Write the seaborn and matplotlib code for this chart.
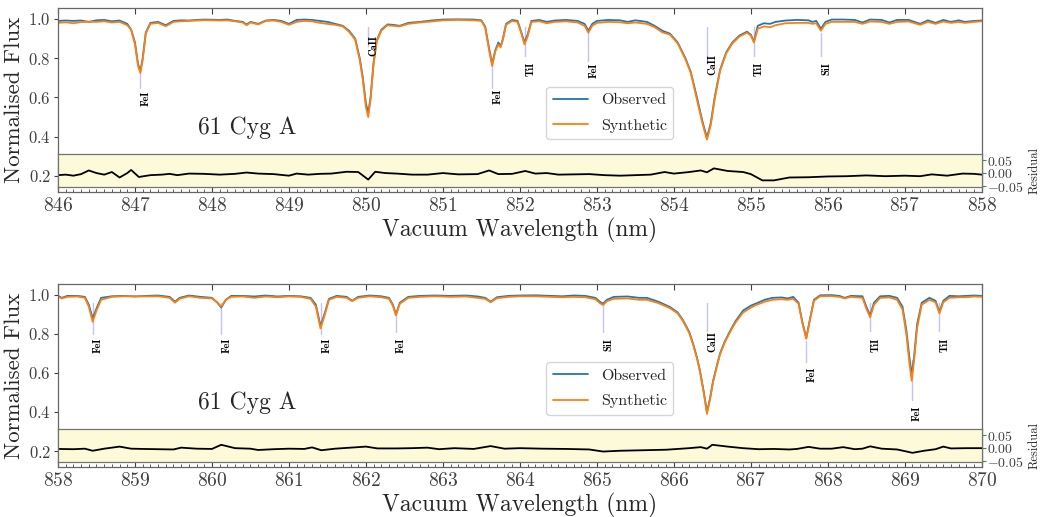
import matplotlib
matplotlib.use("Agg")
import matplotlib.pyplot as plt
import seaborn as sns
import pandas as pd
from matplotlib.ticker import MultipleLocator

# --- panel 1 (846-858 nm): wavelength, observed, synthetic ---
wl_a = [846.00, 846.10, 846.20, 846.30, 846.40, 846.50, 846.60, 846.70, 846.80, 846.90,
        846.95, 847.00, 847.04, 847.07, 847.10, 847.14, 847.20, 847.30, 847.40, 847.50,
        847.60, 847.70, 847.80, 847.90, 848.00, 848.10, 848.20, 848.30, 848.40, 848.45,
        848.50, 848.60, 848.70, 848.80, 848.90, 849.00, 849.10, 849.20, 849.30, 849.40,
        849.50, 849.60, 849.70, 849.78, 849.86, 849.92, 849.96, 850.00, 850.03, 850.06,
        850.10, 850.14, 850.20, 850.28, 850.35, 850.44, 850.55, 850.70, 850.85, 851.00,
        851.20, 851.40, 851.50, 851.55, 851.60, 851.64, 851.68, 851.72, 851.75, 851.78,
        851.82, 851.90, 851.97, 852.02, 852.06, 852.10, 852.15, 852.25, 852.35, 852.45,
        852.60, 852.75, 852.84, 852.89, 852.94, 853.00, 853.15, 853.30, 853.40, 853.50,
        853.65, 853.75, 853.85, 853.95, 854.05, 854.15, 854.22, 854.30, 854.37, 854.43,
        854.48, 854.53, 854.60, 854.68, 854.76, 854.85, 854.95, 855.00, 855.04, 855.09,
        855.17, 855.25, 855.32, 855.45, 855.60, 855.75, 855.80, 855.85, 855.91, 855.97,
        856.05, 856.20, 856.35, 856.45, 856.55, 856.70, 856.80, 856.90, 857.05, 857.20,
        857.30, 857.40, 857.50, 857.60, 857.70, 857.78, 857.90, 858.00]
obs_a = [0.990, 0.992, 0.990, 0.992, 0.985, 0.993, 0.995, 0.988, 0.992, 0.975,
         0.945, 0.880, 0.770, 0.735, 0.800, 0.930, 0.980, 0.985, 0.968, 0.990,
         0.993, 0.992, 0.995, 0.997, 0.996, 0.995, 0.997, 0.990, 0.985, 0.972,
         0.985, 0.975, 0.992, 0.995, 0.990, 0.975, 0.995, 0.997, 0.995, 0.990,
         0.985, 0.975, 0.965, 0.940, 0.900, 0.800, 0.700, 0.570, 0.520, 0.600,
         0.780, 0.890, 0.945, 0.972, 0.970, 0.965, 0.980, 0.985, 0.992, 0.997,
         0.998, 0.997, 0.993, 0.960, 0.850, 0.770, 0.840, 0.880, 0.860, 0.900,
         0.975, 0.995, 0.990, 0.930, 0.880, 0.920, 0.990, 0.995, 0.985, 0.992,
         0.995, 0.990, 0.975, 0.940, 0.975, 0.990, 0.995, 0.993, 0.985, 0.993,
         0.985, 0.965, 0.940, 0.925, 0.880, 0.800, 0.730, 0.600, 0.480, 0.395,
         0.470, 0.600, 0.740, 0.830, 0.880, 0.915, 0.935, 0.920, 0.885, 0.965,
         0.978, 0.975, 0.985, 0.992, 0.995, 0.993, 0.985, 0.990, 0.950, 0.985,
         0.997, 0.997, 0.995, 0.982, 0.997, 0.995, 0.982, 0.995, 0.995, 0.975,
         0.993, 0.980, 0.995, 0.985, 0.993, 0.985, 0.990, 0.992]
syn_a = [0.980, 0.983, 0.978, 0.984, 0.986, 0.985, 0.988, 0.982, 0.985, 0.968,
         0.945, 0.870, 0.760, 0.725, 0.790, 0.925, 0.975, 0.980, 0.963, 0.985,
         0.988, 0.990, 0.992, 0.994, 0.993, 0.992, 0.993, 0.988, 0.982, 0.968,
         0.982, 0.972, 0.990, 0.992, 0.985, 0.970, 0.985, 0.990, 0.988, 0.980,
         0.975, 0.970, 0.962, 0.935, 0.895, 0.790, 0.690, 0.550, 0.500, 0.590,
         0.770, 0.885, 0.940, 0.968, 0.965, 0.962, 0.975, 0.982, 0.987, 0.993,
         0.995, 0.993, 0.990, 0.955, 0.840, 0.760, 0.835, 0.870, 0.855, 0.895,
         0.970, 0.990, 0.985, 0.925, 0.870, 0.910, 0.985, 0.988, 0.978, 0.985,
         0.988, 0.982, 0.965, 0.930, 0.965, 0.980, 0.985, 0.983, 0.978, 0.982,
         0.975, 0.958, 0.932, 0.920, 0.875, 0.795, 0.725, 0.590, 0.470, 0.385,
         0.460, 0.590, 0.735, 0.825, 0.875, 0.910, 0.930, 0.915, 0.880, 0.950,
         0.962, 0.958, 0.968, 0.978, 0.980, 0.980, 0.975, 0.978, 0.940, 0.975,
         0.985, 0.985, 0.985, 0.975, 0.987, 0.985, 0.975, 0.985, 0.987, 0.970,
         0.985, 0.975, 0.987, 0.980, 0.985, 0.980, 0.985, 0.988]
res_wl_a = [846.0, 846.1, 846.2, 846.3, 846.4, 846.5, 846.6, 846.7, 846.8, 846.9,
            846.95, 847.05, 847.2, 847.35, 847.45, 847.55, 847.7, 847.9, 848.1, 848.3,
            848.45, 848.6, 848.8, 849.0, 849.1, 849.25, 849.4, 849.55, 849.75, 849.9,
            850.03, 850.12, 850.25, 850.4, 850.6, 850.8, 851.0, 851.2, 851.45, 851.6,
            851.72, 851.9, 852.07, 852.2, 852.35, 852.5, 852.7, 852.9, 853.1, 853.3,
            853.5, 853.7, 853.88, 854.0, 854.2, 854.35, 854.43, 854.52, 854.7, 854.9,
            855.0, 855.15, 855.3, 855.5, 855.75, 856.0, 856.25, 856.5, 856.75, 857.0,
            857.2, 857.35, 857.55, 857.75, 857.9, 858.0]
res_a = [-0.008, -0.006, -0.010, -0.004, 0.010, 0.000, -0.006, 0.004, -0.017, 0.000,
         0.012, -0.015, -0.008, -0.006, -0.003, -0.008, -0.002, -0.003, -0.006, -0.003,
         0.002, -0.002, -0.004, -0.010, -0.002, -0.006, -0.003, -0.002, 0.005, 0.004,
         -0.025, 0.005, 0.000, -0.002, -0.006, -0.006, 0.000, -0.005, -0.004, 0.010,
         -0.004, -0.003, 0.008, -0.002, 0.000, -0.006, -0.005, -0.004, -0.008, -0.010,
         -0.008, -0.006, 0.004, -0.002, 0.004, 0.010, 0.003, 0.018, 0.008, 0.004,
         -0.004, -0.028, -0.028, -0.017, -0.016, -0.013, -0.012, -0.009, -0.012, -0.010,
         -0.012, -0.005, -0.010, -0.002, -0.003, -0.006]

# --- panel 2 (858-870 nm) ---
wl_b = [858.00, 858.05, 858.12, 858.25, 858.35, 858.40, 858.45, 858.50, 858.56, 858.70,
        858.85, 859.00, 859.15, 859.30, 859.45, 859.52, 859.58, 859.70, 859.85, 860.00,
        860.07, 860.12, 860.18, 860.25, 860.40, 860.55, 860.70, 860.85, 861.00, 861.15,
        861.28, 861.35, 861.41, 861.46, 861.52, 861.62, 861.75, 861.82, 861.90, 862.05,
        862.20, 862.30, 862.35, 862.39, 862.44, 862.55, 862.70, 862.90, 863.10, 863.30,
        863.45, 863.55, 863.62, 863.70, 863.85, 864.00, 864.20, 864.40, 864.55, 864.70,
        864.85, 864.98, 865.04, 865.08, 865.13, 865.22, 865.40, 865.55, 865.65, 865.80,
        865.95, 866.05, 866.12, 866.20, 866.25, 866.30, 866.34, 866.39, 866.43, 866.47,
        866.51, 866.56, 866.60, 866.66, 866.73, 866.80, 866.90, 867.00, 867.08, 867.18,
        867.28, 867.40, 867.48, 867.55, 867.62, 867.67, 867.72, 867.77, 867.82, 867.90,
        868.05, 868.15, 868.22, 868.30, 868.45, 868.50, 868.55, 868.60, 868.68, 868.80,
        868.90, 868.97, 869.02, 869.06, 869.09, 869.12, 869.16, 869.22, 869.32, 869.40,
        869.45, 869.50, 869.58, 869.70, 869.80, 869.90, 870.00]
obs_b = [0.995, 0.985, 0.995, 0.995, 0.990, 0.950, 0.880, 0.930, 0.985, 0.993,
         0.995, 0.992, 0.995, 0.997, 0.990, 0.965, 0.985, 0.997, 0.990, 0.985,
         0.960, 0.935, 0.975, 0.995, 0.995, 0.992, 0.997, 0.992, 0.995, 0.993,
         0.985, 0.950, 0.840, 0.900, 0.980, 0.995, 0.990, 0.970, 0.990, 0.997,
         0.993, 0.985, 0.950, 0.900, 0.960, 0.990, 0.995, 0.997, 0.995, 0.997,
         0.992, 0.985, 0.965, 0.988, 0.995, 0.997, 0.998, 0.995, 0.993, 0.997,
         0.995, 0.985, 0.965, 0.955, 0.975, 0.990, 0.992, 0.985, 0.985, 0.965,
         0.938, 0.910, 0.870, 0.810, 0.750, 0.680, 0.610, 0.500, 0.400, 0.470,
         0.560, 0.640, 0.700, 0.760, 0.815, 0.865, 0.920, 0.945, 0.958, 0.975,
         0.985, 0.987, 0.982, 0.990, 0.960, 0.860, 0.780, 0.880, 0.975, 0.998,
         0.999, 0.995, 0.985, 0.995, 0.993, 0.940, 0.895, 0.960, 0.993, 0.995,
         0.985, 0.940, 0.820, 0.680, 0.590, 0.680, 0.850, 0.960, 0.985, 0.970,
         0.912, 0.970, 0.995, 0.993, 0.995, 0.997, 0.995]
syn_b = [0.990, 0.982, 0.990, 0.992, 0.985, 0.940, 0.862, 0.920, 0.975, 0.990,
         0.993, 0.993, 0.992, 0.993, 0.985, 0.960, 0.980, 0.993, 0.985, 0.982,
         0.962, 0.940, 0.975, 0.990, 0.992, 0.985, 0.992, 0.988, 0.992, 0.990,
         0.980, 0.940, 0.828, 0.890, 0.975, 0.990, 0.985, 0.968, 0.985, 0.993,
         0.988, 0.980, 0.945, 0.895, 0.955, 0.985, 0.990, 0.993, 0.990, 0.992,
         0.985, 0.980, 0.962, 0.983, 0.990, 0.993, 0.993, 0.990, 0.988, 0.990,
         0.988, 0.978, 0.958, 0.948, 0.968, 0.980, 0.982, 0.975, 0.975, 0.958,
         0.932, 0.905, 0.865, 0.805, 0.745, 0.675, 0.605, 0.495, 0.390, 0.465,
         0.555, 0.635, 0.695, 0.755, 0.810, 0.858, 0.910, 0.935, 0.950, 0.965,
         0.975, 0.978, 0.975, 0.980, 0.955, 0.855, 0.775, 0.875, 0.970, 0.993,
         0.994, 0.990, 0.982, 0.990, 0.985, 0.930, 0.885, 0.950, 0.985, 0.987,
         0.975, 0.925, 0.800, 0.650, 0.560, 0.660, 0.830, 0.950, 0.975, 0.962,
         0.905, 0.962, 0.985, 0.988, 0.988, 0.992, 0.990]
res_wl_b = [858.0, 858.2, 858.35, 858.45, 858.6, 858.8, 858.95, 859.1, 859.3, 859.5,
            859.6, 859.8, 860.0, 860.12, 860.3, 860.5, 860.6, 860.8, 861.0, 861.2,
            861.3, 861.42, 861.6, 861.8, 862.0, 862.15, 862.4, 862.6, 862.8, 862.95,
            863.15, 863.4, 863.62, 863.8, 864.0, 864.3, 864.6, 864.9, 865.08, 865.3,
            865.6, 865.9, 866.2, 866.35, 866.43, 866.5, 866.7, 866.9, 867.1, 867.3,
            867.5, 867.6, 867.75, 867.9, 868.05, 868.2, 868.35, 868.45, 868.55, 868.7,
            868.9, 869.1, 869.25, 869.4, 869.5, 869.6, 869.8, 870.0]
res_b = [-0.003, -0.004, -0.002, -0.010, -0.002, 0.006, -0.002, -0.003, -0.004, -0.005,
         0.002, -0.002, -0.003, 0.013, 0.000, -0.002, -0.007, -0.004, -0.002, -0.003,
         0.003, -0.008, -0.002, 0.002, 0.006, -0.001, -0.001, 0.000, 0.002, -0.004,
         0.000, -0.003, 0.008, -0.002, 0.000, -0.002, -0.003, -0.005, -0.013, -0.010,
         -0.008, -0.006, 0.000, 0.004, -0.002, 0.013, 0.006, 0.000, -0.004, -0.003,
         -0.005, -0.003, 0.005, -0.002, -0.002, 0.004, -0.004, -0.002, 0.007, -0.002,
         -0.005, -0.018, -0.010, -0.004, 0.006, -0.001, 0.000, 0.000]

# line identifications
ids_a = ["FeI", "CaII", "FeI", "TiI", "FeI", "CaII", "TiI", "SiI"]
ids_wl_a = [847.07, 850.03, 851.64, 852.07, 852.89, 854.43, 855.04, 855.91]
ids_b = ["FeI", "FeI", "FeI", "FeI", "SiI", "CaII", "FeI", "TiI", "FeI", "TiI"]
ids_wl_b = [858.45, 860.12, 861.42, 862.39, 865.08, 866.43, 867.72, 868.55, 869.09, 869.45]

# marker line top/bottom and label top (flux units)
mark_a = [(0.74, 0.65, 0.635), (0.96, 0.86, 0.92), (0.765, 0.65, 0.645), (0.96, 0.81, 0.78),
          (0.935, 0.785, 0.775), (0.96, 0.775, 0.82), (0.96, 0.81, 0.78), (0.93, 0.81, 0.78)]
mark_b = [(0.96, 0.80, 0.78), (0.96, 0.80, 0.78), (0.96, 0.80, 0.78), (0.90, 0.81, 0.78),
          (0.95, 0.81, 0.78), (0.96, 0.815, 0.815), (0.765, 0.655, 0.63), (0.96, 0.815, 0.78),
          (0.665, 0.46, 0.435), (0.96, 0.815, 0.78)]

sns.set_style("ticks")
plt.rcParams['font.family'] = ['cmr10', 'DejaVu Serif']
plt.rcParams['mathtext.fontset'] = 'cm'
plt.rcParams['axes.formatter.use_mathtext'] = True
plt.rcParams['axes.unicode_minus'] = True

fig = plt.figure(figsize=(10.45, 5.17), dpi=100)
ax1 = fig.add_axes([0.0555, 0.6286, 0.884, 0.356])
ax2 = fig.add_axes([0.0555, 0.0967, 0.884, 0.354])

panels = [
    (ax1, wl_a, obs_a, syn_a, res_wl_a, res_a, ids_a, ids_wl_a, mark_a, (846, 858)),
    (ax2, wl_b, obs_b, syn_b, res_wl_b, res_b, ids_b, ids_wl_b, mark_b, (858, 870)),
]

for ax, wl, obs, syn, rwl, res, ids, idwl, marks, xlim in panels:
    df = pd.DataFrame({'wl': wl, 'Observed': obs, 'Synthetic': syn})
    sns.lineplot(data=df, x='wl', y='Observed', ax=ax, color='#1f77b4', lw=1.3, label='Observed')
    sns.lineplot(data=df, x='wl', y='Synthetic', ax=ax, color='#ff7f0e', lw=1.3, label='Synthetic')

    # line identifications
    for name, w, (top, bot, ty) in zip(ids, idwl, marks):
        ax.plot([w, w], [bot, top], color='#a8a8ff', lw=1, alpha=0.7, zorder=1)
        ax.text(w, ty, name, rotation=90, ha='left', va='top', fontsize=7.5,
                family=['cmb10', 'DejaVu Serif'], color='black')

    ax.set_xlim(*xlim)
    ax.set_ylim(0.118, 1.056)
    ax.set_yticks([0.2, 0.4, 0.6, 0.8, 1.0])
    ax.xaxis.set_major_locator(MultipleLocator(1))
    ax.xaxis.set_minor_locator(MultipleLocator(0.1))
    ax.tick_params(axis='x', which='major', direction='in', top=True, labelsize=14,
                   length=4, colors='0.25')
    ax.tick_params(axis='x', which='minor', direction='in', top=False, length=2, colors='0.25')
    ax.tick_params(axis='y', direction='out', labelsize=12, length=3, pad=2, colors='0.25')
    for s in ax.spines.values():
        s.set_color('0.4')
        s.set_linewidth(0.9)
    ax.set_xlabel('Vacuum Wavelength (nm)', fontsize=17, labelpad=2)
    ax.set_ylabel('Normalised Flux', fontsize=16.5, labelpad=3)
    ax.text(0.205, 0.35, '61 Cyg A', transform=ax.transAxes, fontsize=17,
            ha='center', va='center')
    ax.legend(loc='upper left', bbox_to_anchor=(0.52, 0.615), fontsize=11.5,
              frameon=True, handlelength=2.2, labelspacing=0.7)

    # residual strip
    rax = ax.inset_axes([0, 0.025, 1, 0.18])
    rax.set_facecolor('#fcfad8')
    sns.lineplot(x=rwl, y=res, ax=rax, color='black', lw=1.3)
    rax.set_xlim(*xlim)
    rax.set_ylim(-0.055, 0.072)
    rax.set_xticks([])
    rax.yaxis.tick_right()
    rax.yaxis.set_label_position('right')
    rax.set_yticks([-0.05, 0.0, 0.05])
    rax.tick_params(axis='y', direction='out', length=3, color='tab:green',
                    labelsize=10, labelcolor='0.25', pad=1)
    rax.set_ylabel('Residual', fontsize=9, labelpad=3)
    for s in rax.spines.values():
        s.set_color('0.45')
        s.set_linewidth(0.9)

fig.savefig('out.png', dpi=100)
